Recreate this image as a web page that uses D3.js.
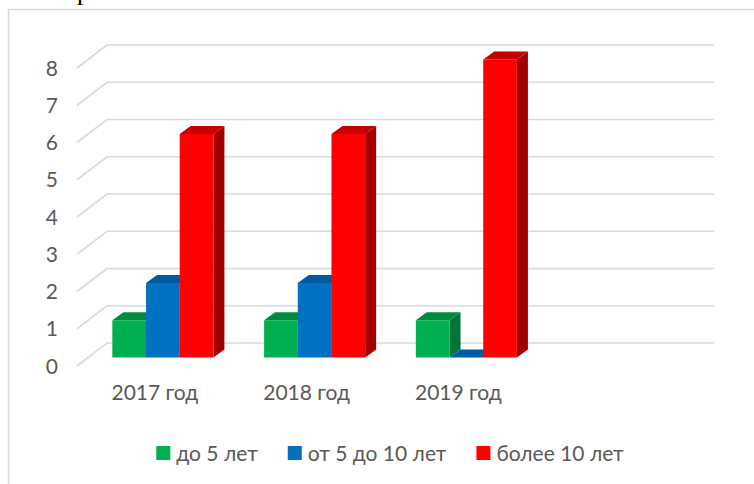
<!DOCTYPE html>
<html>
<head>
<meta charset="utf-8">
<script src="https://cdn.jsdelivr.net/npm/d3@7/dist/d3.min.js"></script>
<style>
  html, body { margin: 0; padding: 0; background: #fff; }
  svg { display: block; }
  .tick-label, .cat-label, .legend-label { font-family: Lato, "Open Sans", sans-serif; fill: #595959; }
</style>
</head>
<body>
<div id="chart"></div>
<script>
// data (4th slot is an empty category in the source)
const categories = [`2017 год`, `2018 год`, `2019 год`, ``];
const seriesNames = [`до 5 лет`, `от 5 до 10 лет`, `более 10 лет`];
const upTo5 = [1, 1, 1];
const from5to10 = [2, 2, 0];
const over10 = [6, 6, 8];
const yTicks = [0, 1, 2, 3, 4, 5, 6, 7, 8];

const width = 754;
const height = 484;

// face colours: front / top / side
const palette = [
  { front: `#00b050`, top: `#008a3c`, side: `#007536` },
  { front: `#0070c0`, top: `#005aa0`, side: `#00559a` },
  { front: `#ff0000`, top: `#c40000`, side: `#a00000` }
];

const svg = d3.select(`#chart`).append(`svg`)
  .attr(`width`, width)
  .attr(`height`, height);

// bit of document text cut off above the chart (only its descender shows)
svg.append(`text`)
  .attr(`x`, 77)
  .attr(`y`, -0.5)
  .style(`font-family`, `"Liberation Serif", serif`)
  .style(`font-size`, `26px`)
  .style(`fill`, `#000`)
  .text(`р`);

// chart frame (only top and left edges are in view)
svg.append(`path`)
  .attr(`d`, `M8.5,${height} L8.5,9.5 L${width},9.5`)
  .attr(`fill`, `none`)
  .attr(`stroke`, `#d9d9d9`)
  .attr(`stroke-width`, 1.5);

// oblique 3D: back wall and the floor depth
const wall = { left: 107, right: 714 };
const depth = { dx: 30, dy: 23 };
const barDepth = { dx: 11, dy: 8 };
const barShift = { dx: 10, dy: 8.5 };

const y = d3.scaleLinear()
  .domain([0, 8])
  .range([343, 45]);

const x = d3.scaleBand()
  .domain(d3.range(categories.length))
  .range([wall.left - depth.dx, wall.right - depth.dx])
  .paddingInner(0.334)
  .paddingOuter(0.167);

const xSeries = d3.scaleBand()
  .domain(d3.range(seriesNames.length))
  .range([0, x.bandwidth()]);

// gridlines: side wall diagonal + back wall line
const grid = svg.append(`g`).attr(`class`, `grid`);
grid.selectAll(`path`)
  .data(yTicks)
  .enter().append(`path`)
    .attr(`d`, (d) => `M${wall.left - depth.dx},${y(d) + depth.dy} L${wall.left},${y(d)} L${wall.right},${y(d)}`)
    .attr(`fill`, `none`)
    .attr(`stroke`, `#d9d9d9`)
    .attr(`stroke-width`, 1.6);

svg.append(`g`).selectAll(`text`)
  .data(yTicks)
  .enter().append(`text`)
    .attr(`class`, `tick-label`)
    .attr(`x`, 58)
    .attr(`y`, (d) => y(d) + depth.dy)
    .attr(`dy`, `0.36em`)
    .attr(`text-anchor`, `end`)
    .style(`font-size`, `21px`)
    .text((d) => d);

// bars
const series = [upTo5, from5to10, over10];
const bars = [];
categories.forEach((c, ci) => {
  series.forEach((vals, si) => {
    if (vals[ci] === undefined) return;
    bars.push({ ci, si, value: vals[ci] });
  });
});

const barG = svg.append(`g`).attr(`class`, `bars`);
const zeroFront = y(0) + depth.dy - barShift.dy;
const rise = (v) => y(0) - y(v);

const bar = barG.selectAll(`g`)
  .data(bars)
  .enter().append(`g`);

bar.each(function(d) {
  const g = d3.select(this);
  const x0 = x(d.ci) + xSeries(d.si) + barShift.dx;
  const w = xSeries.bandwidth();
  const yb = zeroFront;
  const yt = zeroFront - rise(d.value);
  const bx = barDepth.dx;
  const by = barDepth.dy;
  const col = palette[d.si];

  // side
  g.append(`path`)
    .attr(`d`, `M${x0 + w},${yt} L${x0 + w + bx},${yt - by} L${x0 + w + bx},${yb - by} L${x0 + w},${yb} Z`)
    .attr(`fill`, col.side);
  // top
  g.append(`path`)
    .attr(`d`, `M${x0},${yt} L${x0 + bx},${yt - by} L${x0 + w + bx},${yt - by} L${x0 + w},${yt} Z`)
    .attr(`fill`, col.top);
  // front
  if (d.value > 0) {
    g.append(`rect`)
      .attr(`x`, x0)
      .attr(`y`, yt)
      .attr(`width`, w)
      .attr(`height`, yb - yt)
      .attr(`fill`, col.front);
  }
});

// category labels
svg.append(`g`).selectAll(`text`)
  .data(categories)
  .enter().append(`text`)
    .attr(`class`, `cat-label`)
    .attr(`x`, (d, i) => x(i) + x.bandwidth() / 2 + 2)
    .attr(`y`, 400)
    .attr(`text-anchor`, `middle`)
    .style(`font-size`, `21px`)
    .text((d) => d);

// legend
const legend = svg.append(`g`).attr(`class`, `legend`);
const item = legend.selectAll(`g`)
  .data(seriesNames)
  .enter().append(`g`);

item.append(`rect`)
  .attr(`width`, 14)
  .attr(`height`, 14)
  .attr(`y`, -7)
  .attr(`fill`, (d, i) => palette[i].front);

item.append(`text`)
  .attr(`class`, `legend-label`)
  .attr(`x`, 20)
  .attr(`dy`, `0.36em`)
  .style(`font-size`, `21px`)
  .text((d) => d);

let offset = 0;
const widths = [];
item.each(function() {
  widths.push(20 + d3.select(this).select(`text`).node().getComputedTextLength());
});
const gap = 30;
const total = d3.sum(widths) + gap * (widths.length - 1);
const startX = 390 - total / 2;
item.attr(`transform`, (d, i) => {
  const tx = startX + offset;
  offset += widths[i] + gap;
  return `translate(${tx},453)`;
});
</script>
</body>
</html>
